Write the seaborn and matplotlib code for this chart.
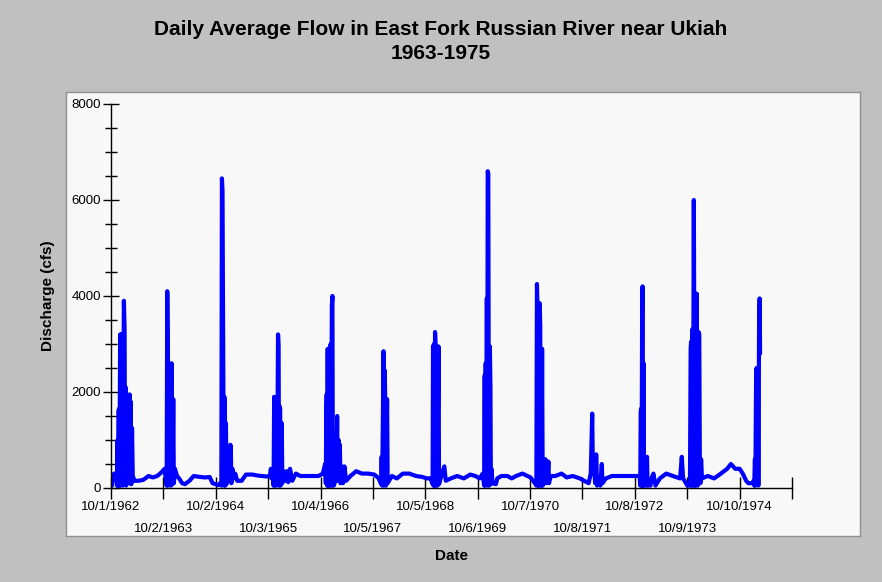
#!/usr/bin/env python3

import pandas as pd
import matplotlib
matplotlib.use("Agg")
import matplotlib.pyplot as plt
import matplotlib.dates as mdates
import seaborn as sns

# daily flow as (date, cfs) per water year
wy1963 = [("1962-10-01", 200), ("1962-10-08", 50), ("1962-10-14", 250), ("1962-10-22", 300),
          ("1962-11-05", 300), ("1962-11-12", 50), ("1962-11-16", 1000), ("1962-11-19", 50),
          ("1962-11-22", 1600), ("1962-11-26", 1650), ("1962-11-29", 50), ("1962-12-04", 3200),
          ("1962-12-07", 50), ("1962-12-11", 3200), ("1962-12-14", 100), ("1962-12-19", 3200),
          ("1962-12-23", 50), ("1962-12-30", 3900), ("1963-01-04", 3300), ("1963-01-07", 100),
          ("1963-01-11", 2100), ("1963-01-15", 50), ("1963-01-22", 300), ("1963-01-28", 400),
          ("1963-02-03", 100), ("1963-02-08", 1950), ("1963-02-12", 100), ("1963-02-16", 1800),
          ("1963-02-20", 80), ("1963-02-25", 1250), ("1963-03-02", 250), ("1963-03-15", 150),
          ("1963-04-10", 150), ("1963-05-15", 170), ("1963-06-20", 250), ("1963-07-20", 220),
          ("1963-08-20", 250), ("1963-09-20", 330)]
wy1964 = [("1963-10-10", 400), ("1963-10-25", 50), ("1963-10-29", 4100), ("1963-11-02", 2850),
          ("1963-11-05", 50), ("1963-11-10", 2350), ("1963-11-14", 100), ("1963-11-19", 1850),
          ("1963-11-23", 50), ("1963-11-28", 2600), ("1963-12-02", 1400), ("1963-12-05", 80),
          ("1963-12-10", 1850), ("1963-12-14", 100), ("1963-12-22", 400), ("1964-01-05", 250),
          ("1964-01-20", 200), ("1964-02-10", 100), ("1964-03-01", 80), ("1964-04-01", 150),
          ("1964-05-01", 250), ("1964-06-15", 230), ("1964-07-20", 220), ("1964-08-20", 230),
          ("1964-09-10", 100), ("1964-10-01", 80)]
wy1965 = [("1964-10-20", 60), ("1964-11-01", 100), ("1964-11-10", 50), ("1964-11-14", 6450),
          ("1964-11-18", 6200), ("1964-11-21", 4100), ("1964-11-24", 2350), ("1964-11-27", 50),
          ("1964-12-01", 1900), ("1964-12-05", 1500), ("1964-12-08", 50), ("1964-12-12", 1350),
          ("1964-12-16", 80), ("1964-12-22", 300), ("1965-01-05", 200), ("1965-01-12", 900),
          ("1965-01-15", 850), ("1965-01-19", 100), ("1965-01-26", 400), ("1965-02-05", 200),
          ("1965-02-15", 300), ("1965-03-01", 150), ("1965-04-01", 150), ("1965-05-01", 280),
          ("1965-06-15", 280), ("1965-07-20", 260), ("1965-08-20", 250), ("1965-09-20", 240)]
wy1966 = [("1965-10-15", 250), ("1965-10-22", 400), ("1965-10-26", 200), ("1965-11-05", 250),
          ("1965-11-10", 50), ("1965-11-14", 1900), ("1965-11-18", 50), ("1965-11-24", 300),
          ("1965-12-02", 50), ("1965-12-06", 650), ("1965-12-11", 3200), ("1965-12-15", 2950),
          ("1965-12-18", 50), ("1965-12-22", 1700), ("1965-12-26", 1650), ("1965-12-29", 50),
          ("1966-01-02", 1050), ("1966-01-06", 1350), ("1966-01-10", 100), ("1966-01-18", 350),
          ("1966-02-01", 150), ("1966-02-10", 350), ("1966-02-20", 120), ("1966-03-05", 400),
          ("1966-03-20", 150), ("1966-04-15", 300), ("1966-05-15", 250), ("1966-06-20", 250),
          ("1966-08-01", 250), ("1966-09-20", 250)]
wy1967 = [("1966-10-20", 300), ("1966-11-05", 500), ("1966-11-10", 100), ("1966-11-13", 1500),
          ("1966-11-16", 1950), ("1966-11-19", 50), ("1966-11-23", 2900), ("1966-11-27", 50),
          ("1966-12-02", 2900), ("1966-12-06", 50), ("1966-12-10", 2900), ("1966-12-14", 3000),
          ("1966-12-17", 50), ("1966-12-22", 3800), ("1966-12-26", 4000), ("1966-12-29", 50),
          ("1967-01-05", 50), ("1967-01-20", 200), ("1967-01-25", 800), ("1967-01-28", 1500),
          ("1967-02-01", 150), ("1967-02-07", 1000), ("1967-02-11", 200), ("1967-02-16", 900),
          ("1967-02-20", 100), ("1967-03-01", 450), ("1967-03-10", 100), ("1967-03-20", 450),
          ("1967-04-01", 150), ("1967-05-01", 250), ("1967-06-10", 350), ("1967-07-20", 300),
          ("1967-09-01", 300)]
wy1968 = [("1967-10-15", 280), ("1967-11-15", 200), ("1967-12-01", 80), ("1967-12-05", 650),
          ("1967-12-09", 50), ("1967-12-18", 2850), ("1967-12-22", 50), ("1967-12-27", 2450),
          ("1968-01-01", 1400), ("1968-01-04", 50), ("1968-01-12", 1850), ("1968-01-16", 100),
          ("1968-01-25", 150), ("1968-02-15", 250), ("1968-03-20", 200), ("1968-05-01", 300),
          ("1968-06-15", 300), ("1968-08-01", 250), ("1968-09-15", 230)]
wy1969 = [("1968-10-15", 200), ("1968-11-10", 200), ("1968-11-25", 80), ("1968-11-28", 2950),
          ("1968-12-01", 50), ("1968-12-04", 3000), ("1968-12-08", 50), ("1968-12-12", 3250),
          ("1968-12-16", 2950), ("1968-12-19", 50), ("1968-12-25", 2950), ("1968-12-29", 50),
          ("1969-01-05", 2950), ("1969-01-09", 80), ("1969-01-20", 200), ("1969-02-05", 350),
          ("1969-02-15", 450), ("1969-02-25", 150), ("1969-04-01", 200), ("1969-05-15", 250),
          ("1969-07-01", 200), ("1969-08-15", 280), ("1969-09-20", 250)]
wy1970 = [("1969-10-20", 200), ("1969-11-10", 300), ("1969-11-20", 50), ("1969-11-24", 2350),
          ("1969-11-27", 50), ("1969-12-01", 2600), ("1969-12-05", 100), ("1969-12-09", 3950),
          ("1969-12-12", 50), ("1969-12-15", 6600), ("1969-12-19", 6550), ("1969-12-22", 2100),
          ("1969-12-25", 50), ("1969-12-30", 2950), ("1970-01-03", 2100), ("1970-01-06", 80),
          ("1970-01-10", 400), ("1970-01-18", 100), ("1970-02-10", 80), ("1970-02-20", 200),
          ("1970-03-20", 250), ("1970-05-01", 250), ("1970-06-01", 200), ("1970-07-01", 250),
          ("1970-08-15", 300), ("1970-09-20", 250)]
wy1971 = [("1970-10-10", 220), ("1970-11-10", 100), ("1970-11-20", 50), ("1970-11-24", 4250),
          ("1970-11-28", 3700), ("1970-12-01", 50), ("1970-12-05", 2100), ("1970-12-09", 50),
          ("1970-12-13", 3850), ("1970-12-17", 3400), ("1970-12-20", 50), ("1970-12-26", 50),
          ("1970-12-30", 2900), ("1971-01-03", 50), ("1971-01-08", 200), ("1971-01-12", 500),
          ("1971-01-16", 200), ("1971-01-22", 600), ("1971-01-26", 100), ("1971-02-05", 150),
          ("1971-02-12", 550), ("1971-02-16", 100), ("1971-03-01", 250), ("1971-04-01", 250),
          ("1971-05-15", 300), ("1971-06-20", 220), ("1971-08-01", 250), ("1971-09-20", 200)]
wy1972 = [("1971-10-20", 150), ("1971-11-20", 100), ("1971-12-05", 300), ("1971-12-15", 1550),
          ("1971-12-20", 300), ("1971-12-28", 400), ("1972-01-05", 100), ("1972-01-12", 700),
          ("1972-01-18", 50), ("1972-01-25", 200), ("1972-02-10", 50), ("1972-02-20", 500),
          ("1972-02-25", 100), ("1972-03-20", 200), ("1972-05-01", 250), ("1972-07-01", 250),
          ("1972-09-01", 250)]
wy1973 = [("1972-10-15", 250), ("1972-11-10", 250), ("1972-11-15", 50), ("1972-11-18", 1600),
          ("1972-11-21", 1650), ("1972-11-24", 50), ("1972-11-28", 3700), ("1972-12-01", 4200),
          ("1972-12-04", 50), ("1972-12-08", 2600), ("1972-12-11", 50), ("1972-12-16", 650),
          ("1972-12-20", 600), ("1972-12-24", 50), ("1973-01-01", 650), ("1973-01-05", 50),
          ("1973-01-25", 50), ("1973-02-01", 200), ("1973-02-15", 300), ("1973-03-01", 50),
          ("1973-04-01", 200), ("1973-05-15", 300), ("1973-07-01", 250), ("1973-08-20", 200),
          ("1973-09-01", 650), ("1973-09-10", 200)]
wy1974 = [("1973-10-10", 50), ("1973-10-28", 50), ("1973-11-02", 2900), ("1973-11-05", 3050),
          ("1973-11-08", 50), ("1973-11-12", 3300), ("1973-11-15", 1300), ("1973-11-18", 50),
          ("1973-11-24", 6000), ("1973-11-28", 2300), ("1973-12-01", 50), ("1973-12-05", 2200),
          ("1973-12-08", 50), ("1973-12-14", 4050), ("1973-12-18", 1500), ("1973-12-21", 50),
          ("1973-12-28", 3250), ("1974-01-01", 3200), ("1974-01-05", 550), ("1974-01-09", 100),
          ("1974-01-14", 600), ("1974-01-20", 200), ("1974-03-01", 250), ("1974-04-15", 200),
          ("1974-06-01", 300), ("1974-07-15", 400), ("1974-08-10", 500), ("1974-09-10", 400)]
wy1975 = [("1974-10-10", 400), ("1974-11-01", 300), ("1974-11-25", 150), ("1974-12-10", 100),
          ("1975-01-05", 100), ("1975-01-15", 150), ("1975-01-20", 50), ("1975-01-25", 600),
          ("1975-01-28", 50), ("1975-02-02", 2300), ("1975-02-05", 2500), ("1975-02-08", 100),
          ("1975-02-12", 2300), ("1975-02-15", 2350), ("1975-02-18", 50), ("1975-02-23", 3400),
          ("1975-02-27", 3950), ("1975-03-02", 2800)]

# upper row of date labels (even years) and lower row (odd years)
upper_tick_dates = ["1962-10-01", "1964-10-02", "1966-10-04", "1968-10-05",
                    "1970-10-07", "1972-10-08", "1974-10-10"]
upper_tick_labels = ["10/1/1962", "10/2/1964", "10/4/1966", "10/5/1968",
                     "10/7/1970", "10/8/1972", "10/10/1974"]
lower_tick_dates = ["1963-10-02", "1965-10-03", "1967-10-05", "1969-10-06",
                    "1971-10-08", "1973-10-09", "1975-10-11"]
lower_tick_labels = ["10/2/1963", "10/3/1965", "10/5/1967", "10/6/1969",
                     "10/8/1971", "10/9/1973", ""]

rows = []
for wy in [wy1963, wy1964, wy1965, wy1966, wy1967, wy1968, wy1969,
           wy1970, wy1971, wy1972, wy1973, wy1974, wy1975]:
    rows += wy
df = pd.DataFrame(rows, columns=["date", "cfs"])
df["date"] = pd.to_datetime(df["date"])

sns.set_style("white")
plt.rcParams["font.family"] = ["Liberation Sans", "DejaVu Sans"]
plt.rcParams["text.color"] = "black"
plt.rcParams["axes.labelcolor"] = "black"
plt.rcParams["xtick.color"] = "black"
plt.rcParams["ytick.color"] = "black"

fig = plt.figure(figsize=(8.82, 5.82), dpi=100)
fig.patch.set_facecolor("#c0c0c0")

# light panel behind the plot
bg = fig.add_axes([66 / 882, 1 - 536 / 582, (860 - 66) / 882, (536 - 92) / 582], zorder=0)
bg.set_facecolor("#f8f8f8")
bg.set_xticks([])
bg.set_yticks([])
for s in bg.spines.values():
    s.set_color("#909090")
    s.set_linewidth(1)

ax = fig.add_axes([111 / 882, 1 - 488 / 582, (792 - 111) / 882, (488 - 104) / 582], zorder=1)
ax.set_facecolor("none")
sns.lineplot(df, x="date", y="cfs", ax=ax, color="#0000ff", linewidth=3)

ax.set_ylim(0, 8000)
ax.set_xlim(pd.Timestamp("1962-10-01"), pd.Timestamp("1975-10-11"))
for s in ["top", "right"]:
    ax.spines[s].set_visible(False)
for s in ["left", "bottom"]:
    ax.spines[s].set_color("black")
    ax.spines[s].set_linewidth(1)

ax.set_yticks([0, 2000, 4000, 6000, 8000])
ax.set_yticks(range(0, 8001, 500), minor=True)
ax.tick_params(axis="y", which="major", direction="inout", length=12, width=1,
               labelsize=9.5, pad=1, left=True)
ax.tick_params(axis="y", which="minor", direction="inout", length=8, width=1, left=True)

ax.set_xticks([mdates.date2num(pd.Timestamp(d)) for d in upper_tick_dates])
ax.set_xticklabels(upper_tick_labels)
ax.set_xticks([mdates.date2num(pd.Timestamp(d)) for d in lower_tick_dates], minor=True)
ax.set_xticklabels(lower_tick_labels, minor=True)
ax.tick_params(axis="x", which="major", direction="inout", length=16, width=1,
               labelsize=9.5, pad=1, bottom=True)
ax.tick_params(axis="x", which="minor", direction="inout", length=16, width=1,
               labelsize=9.5, pad=17, bottom=True)

ax.set_xlabel("Date", fontsize=11, fontweight="bold", labelpad=10)
ax.set_ylabel("Discharge (cfs)", fontsize=11, fontweight="bold", labelpad=12)
fig.suptitle("Daily Average Flow in East Fork Russian River near Ukiah\n1963-1975",
             fontsize=15, fontweight="bold", y=0.965, linespacing=1.3)

fig.savefig("out.png", dpi=100, facecolor=fig.get_facecolor())
